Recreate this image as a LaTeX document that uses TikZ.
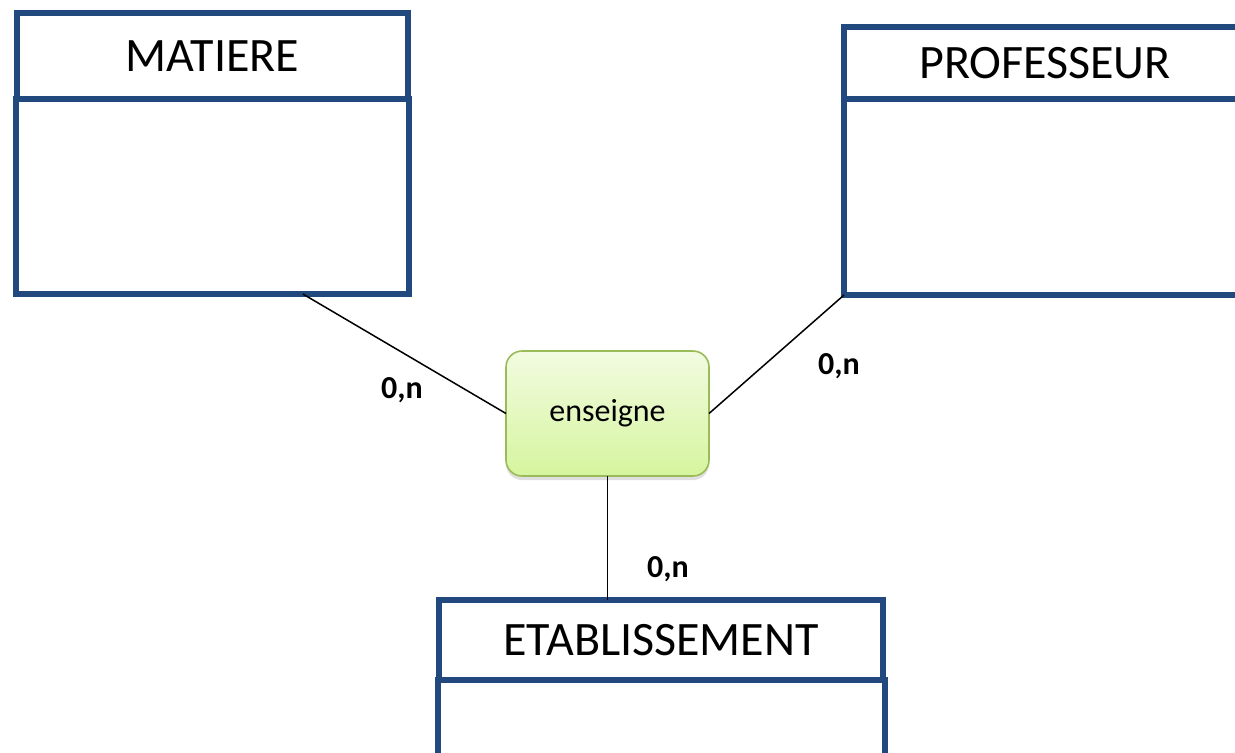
\documentclass[tikz,border=0pt]{standalone}
\usepackage{fontspec}
\setmainfont{Carlito}
\usetikzlibrary{positioning,calc,shadows}

\definecolor{entblue}{RGB}{33,73,125}
\definecolor{relgreen}{RGB}{155,187,89}
\definecolor{reltop}{RGB}{242,251,225}
\definecolor{relbot}{RGB}{214,245,158}

\tikzset{
  entity/.style={draw=entblue, line width=3pt, fill=white, outer sep=0pt, inner sep=0pt,
    font=\fontsize{24}{28}\selectfont},
  entbody/.style={draw=entblue, line width=3pt, fill=white, outer sep=0pt, inner sep=0pt},
  relation/.style={draw=relgreen, line width=0.8pt, rounded corners=8pt, outer sep=0pt,
    top color=reltop, bottom color=relbot,
    drop shadow={opacity=0.25, shadow xshift=0pt, shadow yshift=-2pt},
    font=\fontsize{16}{19}\selectfont},
  card/.style={font=\fontsize{16}{19}\selectfont\bfseries},
  link/.style={line width=0.75pt}
}

\begin{document}
\begin{tikzpicture}[x=0.5pt,y=-0.5pt]
  \useasboundingbox (0,0) rectangle (1235,752);
  \clip (0,0) rectangle (1235,752);

  % Entities
  \node[entity, minimum width=195.5pt, minimum height=43pt] (matiere) at (212.5,56) {MATIERE};
  \node[entbody, minimum width=196.5pt, minimum height=97.5pt, below=0pt of matiere] (matiereb) {};

  \node[entity, minimum width=201pt, minimum height=36pt] (professeur) at (1045,63) {PROFESSEUR};
  \node[entbody, minimum width=201pt, minimum height=98pt, below=0pt of professeur] (professeurb) {};

  \node[entity, minimum width=222pt, minimum height=40pt] (etablissement) at (661,640) {ETABLISSEMENT};
  \node[entbody, minimum width=223.5pt, minimum height=75pt, below=0pt of etablissement] (etablissementb) {};

  % Relation
  \node[relation, minimum width=101.5pt, minimum height=62.5pt] (enseigne) at (607.5,413.5) {enseigne};

  % Links
  \draw[link] ($(matiereb.south west)!0.73!(matiereb.south east)$) -- (enseigne.west);
  \draw[link] (professeurb.south west) -- (enseigne.east);
  \draw[link] (enseigne.south) -- (enseigne.south |- etablissement.north);

  % Cardinalities
  \node[card] (cmatiere) at (402,390) {0,n};
  \node[card] (cprofesseur) at (839,366) {0,n};
  \node[card] (cetablissement) at (668,569) {0,n};
\end{tikzpicture}
\end{document}
